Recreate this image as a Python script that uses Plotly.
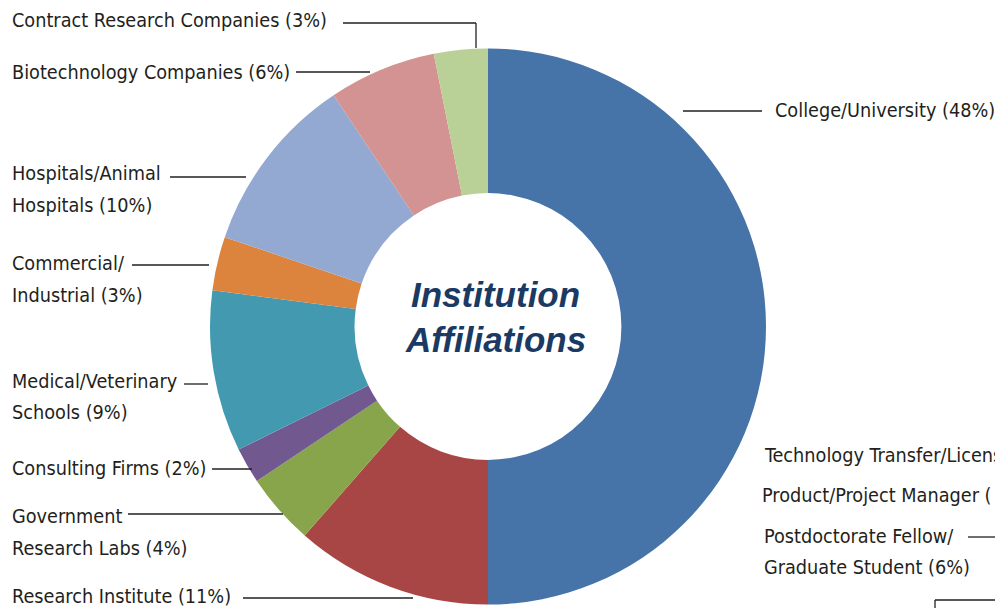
import plotly.graph_objects as go

W, H = 995, 608

categories = ["College/University", "Research Institute", "Government Research Labs",
              "Consulting Firms", "Medical/Veterinary Schools", "Commercial/Industrial",
              "Hospitals/Animal Hospitals", "Biotechnology Companies", "Contract Research Companies"]
values = [48, 11, 4, 2, 9, 3, 10, 6, 3]
colors = ["#4673A8", "#A84645", "#88A54C", "#71598F", "#4299B0", "#DC843D",
          "#94A9D1", "#D29392", "#B9D097"]

center_title = ["Institution", "Affiliations"]

# label lines (text, x_px, y_px)
label_lines = [
    ("Contract Research Companies (3%)", 10, 20),
    ("Biotechnology Companies (6%)", 10, 73),
    ("College/University (48%)", 773, 111),
    ("Hospitals/Animal", 10, 173),
    ("Hospitals (10%)", 10, 205),
    ("Commercial/", 10, 263),
    ("Industrial (3%)", 10, 295),
    ("Medical/Veterinary", 10, 381),
    ("Schools (9%)", 10, 412),
    ("Consulting Firms (2%)", 10, 468),
    ("Government", 10, 516),
    ("Research Labs (4%)", 10, 548),
    ("Research Institute (11%)", 10, 596),
    ("Technology Transfer/Licensing", 762, 455),
    ("Product/Project Manager (", 760, 495),
    ("Postdoctorate Fellow/", 762, 536),
    ("Graduate Student (6%)", 762, 567),
]

# leader lines (x0, y0, x1, y1) in px
leaders = [
    (343, 23, 476, 23), (476, 23, 476, 48),
    (296, 72, 370, 72),
    (683, 111, 762, 111),
    (170, 177, 246, 177),
    (132, 265, 209, 265),
    (184, 384, 208, 384),
    (212, 469, 252, 469),
    (128, 514, 283, 514),
    (243, 598, 413, 598),
    (968, 537, 995, 537),
    (935, 600, 995, 600), (935, 600, 935, 608),
]

def px(x):
    return x / W

def py(y):
    return 1 - y / H

fig = go.Figure(go.Pie(
    labels=categories, values=values, hole=0.48, sort=False, direction="clockwise",
    rotation=0, marker=dict(colors=colors, line=dict(width=0)),
    textinfo="none", hoverinfo="label+value", showlegend=False,
    domain=dict(x=[px(210), px(766)], y=[py(605), py(48)]),
))

annotations = []
for t, x, y in label_lines:
    annotations.append(dict(text=t, x=px(x), y=py(y), xref="paper", yref="paper",
                            xanchor="left", yanchor="middle", showarrow=False,
                            font=dict(family="DejaVu Sans Condensed", size=19.7, color="#231F20")))
for i, t in enumerate(center_title):
    annotations.append(dict(text="<b><i>%s</i></b>" % t, x=px(495), y=py(294 + 45 * i),
                            xref="paper", yref="paper", xanchor="center", yanchor="middle",
                            showarrow=False,
                            font=dict(family="Liberation Sans", size=35, color="#1B3A63")))

shapes = [dict(type="line", xref="paper", yref="paper", x0=px(a), y0=py(b), x1=px(c), y1=py(d),
               line=dict(color="#231F20", width=1.3)) for a, b, c, d in leaders]

fig.update_layout(width=W, height=H, margin=dict(l=0, r=0, t=0, b=0),
                  paper_bgcolor="white", plot_bgcolor="white",
                  annotations=annotations, shapes=shapes)
fig.write_html("out.html", config={"displayModeBar": False},
               post_script="document.body.style.margin='0';")
